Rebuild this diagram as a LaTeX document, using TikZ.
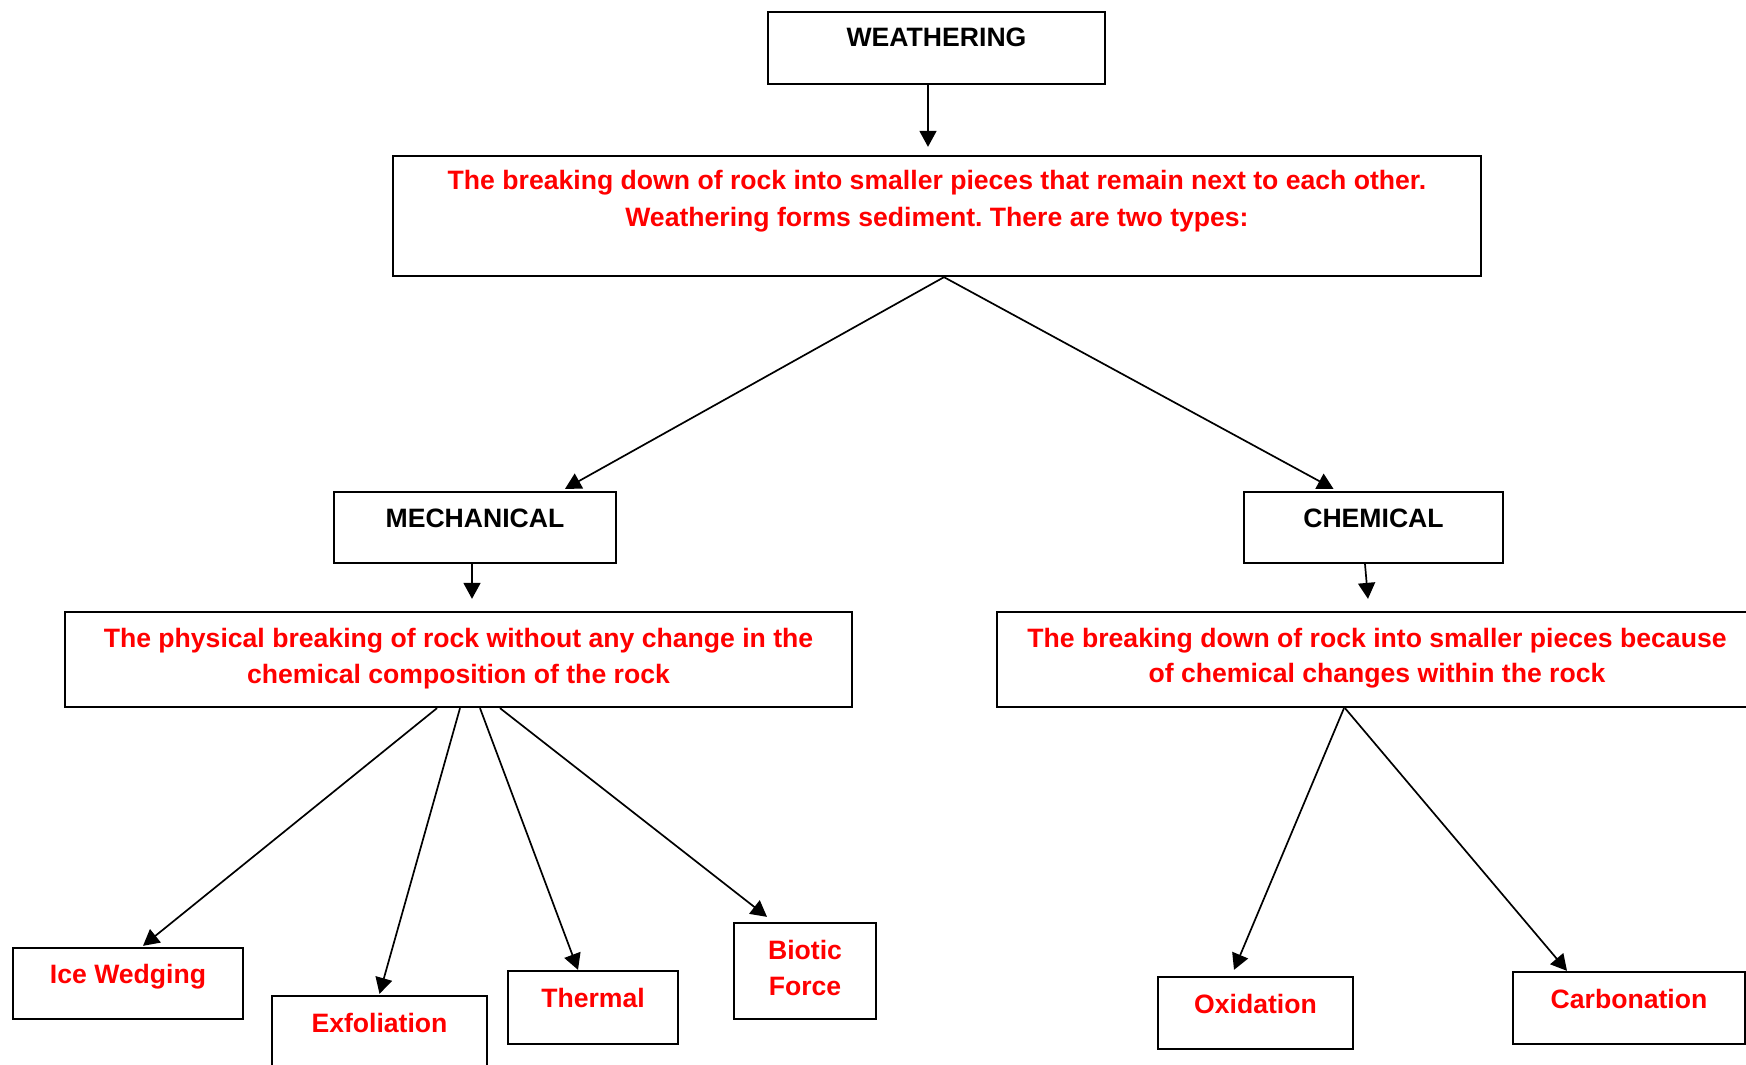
\documentclass[tikz,border=0pt]{standalone}
\usepackage{fontspec}
\setmainfont{Liberation Sans}
\usetikzlibrary{fit,calc,arrows.meta}
\frenchspacing
\begin{document}
\begin{tikzpicture}[x=0.5pt,y=-0.5pt,
  box/.style={draw=black, line width=1.15pt, inner sep=0pt},
  head/.style={font=\bfseries\fontsize{13.3}{18}\selectfont, text=black, anchor=base, inner sep=0pt},
  note/.style={head, text=red},
  arr/.style={draw=black, line width=0.85pt, -{Triangle[length=8pt,width=8.5pt]}}]
\useasboundingbox (0,0) rectangle (1746,1065);
\clip (0,0) rectangle (1746,1065);
\fill[white] (0,0) rectangle (1746,1065);

% boxes
\node[box, fit={(768,12) (1105,84)}] (weather) {};
\node[box, fit={(393,156) (1481,276)}] (desc) {};
\node[box, fit={(334,492) (616,563)}] (mech) {};
\node[box, fit={(1244,492) (1503,563)}] (chem) {};
\node[box, fit={(65,612) (852,707)}] (mdesc) {};
\node[box, fit={(997,612) (1757,707)}] (cdesc) {};
\node[box, fit={(13,948) (243,1019)}] (ice) {};
\node[box, fit={(272,996) (487,1100)}] (exf) {};
\node[box, fit={(508,971) (678,1044)}] (therm) {};
\node[box, fit={(734,923) (876,1019)}] (biotic) {};
\node[box, fit={(1158,977) (1353,1049)}] (oxid) {};
\node[box, fit={(1513,972) (1745,1044)}] (carb) {};

% texts
\node[head] (weather-t) at (936.5,47) {WEATHERING};
\node[note] (desc-t1) at (937,190) {The breaking down of rock into smaller pieces that remain next to each other.};
\node[note] (desc-t2) at (937,227) {Weathering forms sediment. There are two types:};
\node[head] (mech-t) at (475,527) {MECHANICAL};
\node[head] (chem-t) at (1373.5,527) {CHEMICAL};
\node[note] (mdesc-t1) at (458.5,647) {The physical breaking of rock without any change in the};
\node[note] (mdesc-t2) at (458.5,683) {chemical composition of the rock};
\node[note] (cdesc-t1) at (1377,647) {The breaking down of rock into smaller pieces because};
\node[note] (cdesc-t2) at (1377,682) {of chemical changes within the rock};
\node[note] (ice-t) at (128,983) {Ice Wedging};
\node[note] (exf-t) at (379.5,1032) {Exfoliation};
\node[note] (therm-t) at (593,1007) {Thermal};
\node[note] (biotic-t1) at (805,959) {Biotic};
\node[note] (biotic-t2) at (805,995) {Force};
\node[note] (oxid-t) at (1255.5,1013) {Oxidation};
\node[note] (carb-t) at (1629,1008) {Carbonation};

% connectors
\draw[arr] ($(weather.south)+(-8.5,0)$) -- ($(desc.north)+(-9,-8)$);
\draw[arr] ($(desc.south)+(7,0)$) -- ($(mech.north)+(90,-2)$);
\draw[arr] ($(desc.south)+(7,0)$) -- ($(chem.north)+(-40,-2)$);
\draw[arr] ($(mech.south)+(-3,0)$) -- ($(mdesc.north)+(13.5,-12)$);
\draw[arr] ($(chem.south)+(-8.5,0)$) -- ($(cdesc.north)+(-9,-12)$);
\draw[arr] ($(mdesc.south)+(-21.5,0)$) -- ($(ice.north)+(15,-1)$);
\draw[arr] ($(mdesc.south)+(1.5,0)$) -- ($(exf.north)+(0,-1)$);
\draw[arr] ($(mdesc.south)+(21.5,0)$) -- ($(therm.north)+(-15,0)$);
\draw[arr] ($(mdesc.south)+(41.5,0)$) -- ($(biotic.north)+(-38,-5)$);
\draw[arr] ($(cdesc.south)+(-33,0)$) -- ($(oxid.north)+(-21.5,-6)$);
\draw[arr] ($(cdesc.south)+(-32,0)$) -- ($(carb.north)+(-62,0)$);
\end{tikzpicture}
\end{document}
